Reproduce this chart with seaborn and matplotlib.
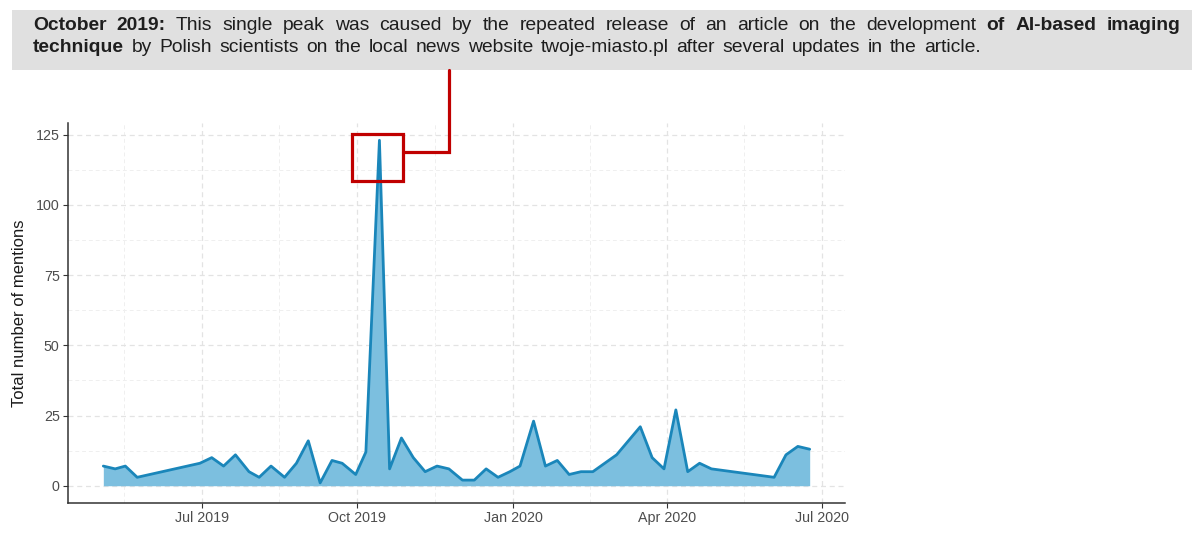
import numpy as np
import pandas as pd
import matplotlib
matplotlib.use("Agg")
import matplotlib.pyplot as plt
import matplotlib.dates as mdates
import seaborn as sns
from matplotlib.patches import Rectangle
from matplotlib.lines import Line2D
from matplotlib.ticker import FixedLocator

# ---------------- data ----------------
dates = [
    "2019-05-04", "2019-05-11", "2019-05-17", "2019-05-24",
    "2019-06-30", "2019-07-07", "2019-07-14", "2019-07-21", "2019-07-29",
    "2019-08-04", "2019-08-11", "2019-08-19", "2019-08-26",
    "2019-09-02", "2019-09-09", "2019-09-16", "2019-09-22", "2019-09-30",
    "2019-10-06", "2019-10-14", "2019-10-20", "2019-10-27",
    "2019-11-03", "2019-11-10", "2019-11-17", "2019-11-24",
    "2019-12-02", "2019-12-09", "2019-12-16", "2019-12-23", "2019-12-30",
    "2020-01-05", "2020-01-13", "2020-01-20", "2020-01-27",
    "2020-02-03", "2020-02-10", "2020-02-17", "2020-02-24",
    "2020-03-02", "2020-03-09", "2020-03-16", "2020-03-23", "2020-03-30",
    "2020-04-06", "2020-04-13", "2020-04-20", "2020-04-27",
    "2020-06-03", "2020-06-10", "2020-06-17", "2020-06-24",
]
mentions = [
    7, 6, 7, 3,
    8, 10, 7, 11, 5,
    3, 7, 3, 8,
    16, 1, 9, 8, 4,
    12, 123, 6, 17,
    10, 5, 7, 6,
    2, 2, 6, 3, 5,
    7, 23, 7, 9,
    4, 5, 5, 8,
    11, 16, 21, 10, 6,
    27, 5, 8, 6,
    3, 11, 14, 13,
]

y_ticks = [0, 25, 50, 75, 100, 125]
y_label = "Total number of mentions"

# highlighted peak (dates / values)
peak_box_dates = ["2019-09-28", "2019-10-28"]
peak_box_values = [108.5, 125.3]
connector_date = "2019-11-24"
connector_value = 119

note_line1 = [("October", True), ("2019:", True), ("This", False), ("single", False),
              ("peak", False), ("was", False), ("caused", False), ("by", False),
              ("the", False), ("repeated", False), ("release", False), ("of", False),
              ("an", False), ("article", False), ("on", False), ("the", False),
              ("development", False), ("of", True), ("AI-based", True), ("imaging", True)]
note_line2 = [("technique", True), ("by", False), ("Polish", False), ("scientists", False),
              ("on", False), ("the", False), ("local", False), ("news", False),
              ("website", False), ("twoje-miasto.pl", False), ("after", False),
              ("several", False), ("updates", False), ("in", False), ("the", False),
              ("article.", False)]

# ---------------- style ----------------
sns.set_theme(style="white")
plt.rcParams["font.family"] = ["Liberation Sans", "DejaVu Sans"]

line_color = "#1a86ba"
fill_color = "#7cbfdf"
red = "#c00000"
W, H = 1192, 540

fig = plt.figure(figsize=(W / 100, H / 100), dpi=100)
ax = fig.add_axes([68 / W, (H - 503) / H, (845 - 68) / W, (503 - 123) / H])

df = pd.DataFrame({"date": pd.to_datetime(dates), "mentions": mentions})

ax.fill_between(df["date"], 0, df["mentions"], color=fill_color, lw=0, zorder=2)
sns.lineplot(data=df, x="date", y="mentions", color=line_color, lw=2.0, ax=ax, zorder=3)

# limits (ggplot-like 5% expansion)
xnum = mdates.date2num(df["date"])
xr = xnum.max() - xnum.min()
ax.set_xlim(xnum.min() - 0.05 * xr, xnum.max() + 0.05 * xr)
yr = max(mentions) - 0
ax.set_ylim(-0.05 * yr, max(mentions) + 0.05 * yr)

# ticks
ax.xaxis.set_major_locator(mdates.MonthLocator(bymonth=[1, 4, 7, 10]))
ax.xaxis.set_major_formatter(mdates.DateFormatter("%b %Y"))
majors = mdates.date2num(pd.to_datetime(["2019-04-01", "2019-07-01", "2019-10-01",
                                         "2020-01-01", "2020-04-01", "2020-07-01"]))
ax.xaxis.set_minor_locator(FixedLocator((majors[:-1] + majors[1:]) / 2))
ax.set_yticks(y_ticks)
ax.yaxis.set_minor_locator(FixedLocator([12.5, 37.5, 62.5, 87.5, 112.5]))

ax.grid(True, which="major", color="#e3e3e3", lw=0.9, ls=(0, (4, 3)), zorder=0)
ax.grid(True, which="minor", color="#efefef", lw=0.7, ls=(0, (4, 3)), zorder=0)
ax.set_axisbelow(True)

for s in ["top", "right"]:
    ax.spines[s].set_visible(False)
for s in ["left", "bottom"]:
    ax.spines[s].set_color("#333333")
    ax.spines[s].set_linewidth(1.1)

ax.tick_params(axis="both", which="major", direction="out", length=3.5, width=0.8,
               color="#333333", labelsize=10.3, labelcolor="#4d4d4d", pad=2.5,
               bottom=True, left=True)
ax.tick_params(axis="both", which="minor", length=0)
ax.set_xlabel("")
ax.set_ylabel(y_label, fontsize=12, color="#1a1a1a", labelpad=6)

# highlight rectangle around the peak
bx = mdates.date2num(pd.to_datetime(peak_box_dates))
rect = Rectangle((bx[0], peak_box_values[0]), bx[1] - bx[0],
                 peak_box_values[1] - peak_box_values[0],
                 fill=False, edgecolor=red, lw=2.3, zorder=5, clip_on=False)
ax.add_patch(rect)

# annotation box at the top
fig.patches.append(Rectangle((12 / W, (H - 70) / H), (W - 12) / W, 60 / H,
                             transform=fig.transFigure, facecolor="#e0e0e0",
                             edgecolor="none", zorder=0))

# connector from rectangle to annotation box
to_fig = fig.transFigure.inverted()
p_start = to_fig.transform(ax.transData.transform((bx[1], connector_value)))
cx = mdates.date2num(pd.to_datetime(connector_date))
p_corner = to_fig.transform(ax.transData.transform((cx, connector_value)))
fig.lines.append(Line2D([p_start[0], p_corner[0], p_corner[0]],
                        [p_start[1], p_corner[1], (H - 70) / H],
                        transform=fig.transFigure, color=red, lw=2.3,
                        solid_joinstyle="miter", zorder=6))

# justified / mixed-weight note text
renderer = fig.canvas.get_renderer()
fs = 13.9
txt_color = "#1e1e1e"


def width_of(word, bold):
    t = fig.text(0, 0, word, fontsize=fs, fontweight="bold" if bold else "normal")
    w = t.get_window_extent(renderer).width
    t.remove()
    return w


def place_line(words, x0, baseline, x1):
    widths = [width_of(w, b) for w, b in words]
    gap = (x1 - x0 - sum(widths)) / (len(words) - 1)
    x = x0
    for (w, b), wd in zip(words, widths):
        fig.text(x / W, 1 - baseline / H, w, fontsize=fs, color=txt_color,
                 fontweight="bold" if b else "normal", ha="left", va="baseline")
        x += wd + gap


place_line(note_line1, 33, 30, 1180)
place_line(note_line2, 33, 52, 981)

fig.savefig("out.png", dpi=100)
